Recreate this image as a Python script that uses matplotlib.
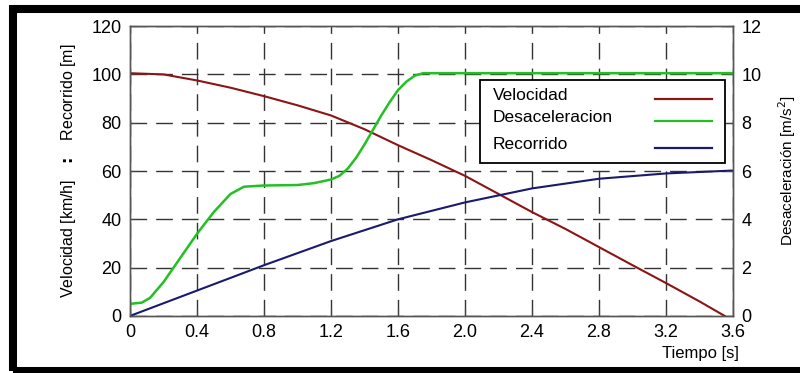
import matplotlib.pyplot as plt
from matplotlib.patches import Rectangle
from matplotlib.lines import Line2D
import numpy as np

plt.rcParams['font.family'] = ['Liberation Sans', 'DejaVu Sans']

# Velocidad [km/h]
t_vel = [0, 0.2, 0.4, 0.6, 0.8, 1.0, 1.2, 1.4, 1.6, 1.8, 2.0, 2.2, 2.4, 2.6, 2.8, 3.0, 3.2, 3.4, 3.55]
velocidad = [100.5, 100, 97.5, 94.5, 91, 87.2, 83, 77.3, 70.7, 64.5, 58, 50.5, 43, 36, 28.5, 21, 13.6, 6, 0]

# Desaceleracion [m/s2]
t_des = [0, 0.07, 0.12, 0.2, 0.3, 0.4, 0.5, 0.6, 0.68, 0.8, 1.0, 1.1, 1.2, 1.25, 1.3, 1.35, 1.4, 1.45, 1.5, 1.55, 1.6, 1.65, 1.7, 1.75, 2.0, 3.6]
desaceleracion = [0.5, 0.55, 0.75, 1.4, 2.4, 3.4, 4.3, 5.05, 5.35, 5.4, 5.42, 5.5, 5.65, 5.8, 6.1, 6.55, 7.1, 7.7, 8.3, 8.85, 9.35, 9.7, 9.95, 10.05, 10.05, 10.05]

# Recorrido [m]
t_rec = [0, 0.4, 0.8, 1.2, 1.6, 2.0, 2.4, 2.8, 3.2, 3.6]
recorrido = [0, 10.5, 21, 31, 40, 47, 52.8, 56.8, 59, 60.2]

etiquetas = ['Velocidad', 'Desaceleracion', 'Recorrido']
colores = ['#8b1414', '#22c022', '#1a1a6e']

fig = plt.figure(figsize=(8, 3.73), dpi=100)
ax = fig.add_axes([0.1625, 0.153, 0.7538, 0.777])
ax2 = ax.twinx()

ax.plot(t_vel, velocidad, color=colores[0], lw=1.5)
ax.plot(t_rec, recorrido, color=colores[2], lw=1.5)
ax2.plot(t_des, desaceleracion, color=colores[1], lw=1.8)

ax.set_xlim(0, 3.6)
ax.set_ylim(0, 120)
ax2.set_ylim(0, 12)
ax.set_xticks(np.arange(0, 3.61, 0.4))
ax.set_xticklabels(['0', '0.4', '0.8', '1.2', '1.6', '2.0', '2.4', '2.8', '3.2', '3.6'])
ax.set_yticks(range(0, 121, 20))
ax2.set_yticks(range(0, 13, 2))

ax.grid(True, color='#333333', linestyle=(0, (12, 6.5)), linewidth=1.0)
for a in (ax, ax2):
    a.tick_params(direction='in', length=5, labelsize=13, color='#444444', pad=6)
    for s in a.spines.values():
        s.set_color('#555555')
        s.set_linewidth(1.0)

ax.set_ylabel('Velocidad [km/h]   $\\mathbf{:}$   Recorrido [m]', fontsize=11.5)
ax.yaxis.set_label_coords(-0.086, 0.5)
ax2.set_ylabel('Desaceleración [m/s$^2$]', fontsize=11)
ax2.yaxis.set_label_coords(1.072, 0.5)
fig.text(0.875, 0.051, 'Tiempo [s]', fontsize=12, ha='center', va='center')

# leyenda dibujada a mano (texto a la izquierda, linea a la derecha)
ax.add_patch(Rectangle((0.58, 0.528), 0.407, 0.286, transform=ax.transAxes,
                       facecolor='white', edgecolor='black', linewidth=1.3, zorder=5))
filas = [0.759, 0.683, 0.590]
for i in range(3):
    ax.text(0.602, filas[i], etiquetas[i], transform=ax.transAxes, fontsize=12.5,
            va='center', ha='left', zorder=6)
    ax.add_line(Line2D([0.871, 0.965], [filas[i] - 0.01, filas[i] - 0.01], transform=ax.transAxes,
                       color=colores[i], lw=1.6, zorder=6))

fig.patches.append(Rectangle((13, 2), 900, 362, transform=None, fill=False,
                             edgecolor='black', linewidth=5.8, figure=fig))

fig.savefig('out.png', dpi=100)
